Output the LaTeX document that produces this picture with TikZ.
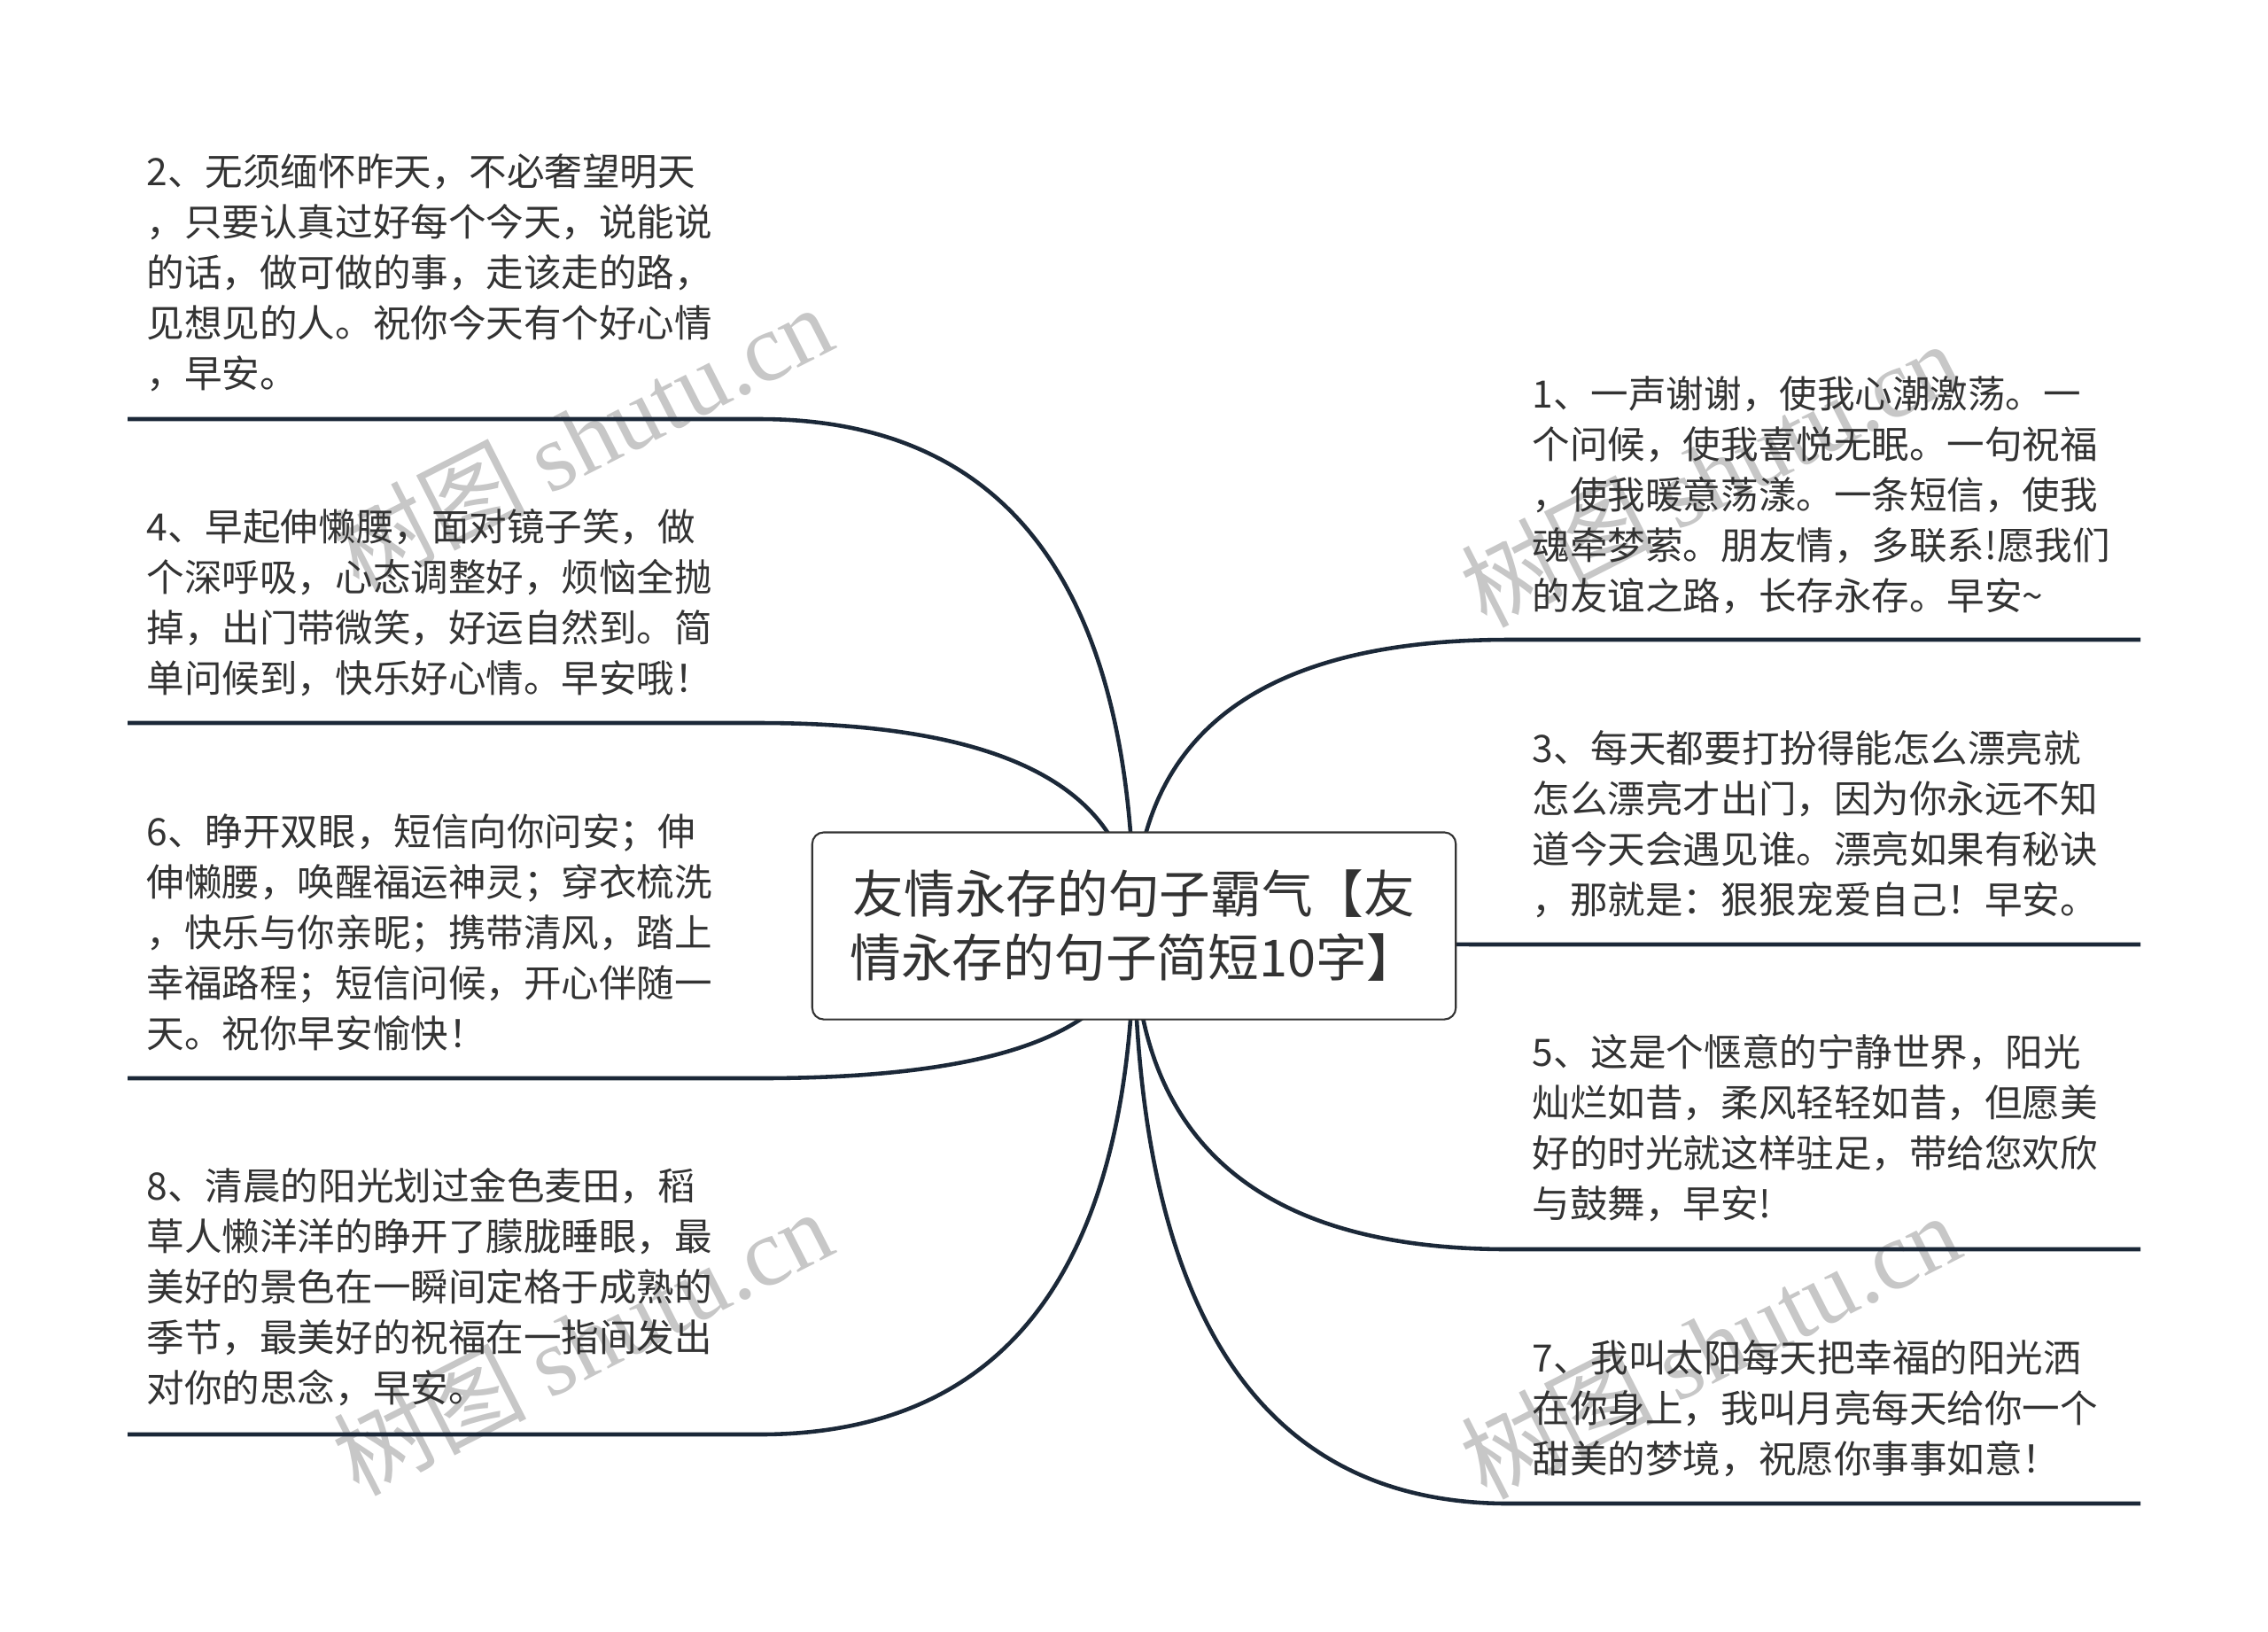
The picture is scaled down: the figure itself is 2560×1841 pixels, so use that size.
\documentclass[tikz,border=0pt]{standalone}
\usepackage{fontspec}
\setmainfont{Noto Sans CJK SC}
\newfontfamily\wmfont{Liberation Serif}
\usetikzlibrary{calc}
\definecolor{linecol}{HTML}{1B2838}
\definecolor{txtcol}{HTML}{333333}

\begin{document}
\begin{tikzpicture}[x=0.01cm, y=-0.01cm,
    txt/.style={anchor=north west, inner sep=0pt, align=left, text=txtcol,
      font=\fontsize{12.1pt}{16.2pt}\selectfont},
    topic/.style={draw=txtcol, line width=0.6pt, fill=white, rounded corners=0.13cm,
      minimum width=7.26cm, minimum height=2.11cm, align=center, text=txtcol,
      font=\fontsize{16.4pt}{20.5pt}\selectfont},
    branch/.style={draw=linecol, line width=1.3pt},
    wm/.style={rotate=27, text=black!22, font=\fontsize{31pt}{31pt}\selectfont}]
  \useasboundingbox[fill=white] (0,0) rectangle (2560,1841);
  % watermarks
  \node[wm] (wm1) at (657,493) {树图 {\wmfont shutu.cn}};
  \node[wm] (wm2) at (1930,534) {树图 {\wmfont shutu.cn}};
  \node[wm] (wm3) at (657,1514) {树图 {\wmfont shutu.cn}};
  \node[wm] (wm4) at (1930,1518) {树图 {\wmfont shutu.cn}};
  % branch ends
  \coordinate (c) at (1280,1045);
  \coordinate (a2) at (857,473);   \coordinate (b2) at (144,473);
  \coordinate (a4) at (857,816);   \coordinate (b4) at (144,816);
  \coordinate (a6) at (857,1217);  \coordinate (b6) at (144,1217);
  \coordinate (a8) at (857,1619);  \coordinate (b8) at (144,1619);
  \coordinate (a1) at (1703,722);  \coordinate (b1) at (2416,722);
  \coordinate (a3) at (1703,1066); \coordinate (b3) at (2416,1066);
  \coordinate (a5) at (1703,1410); \coordinate (b5) at (2416,1410);
  \coordinate (a7) at (1703,1697); \coordinate (b7) at (2416,1697);
  % branches
  \draw[branch] (c) .. controls ($(c)!2/3!(c|-a2)$) and ($(a2)!2/3!(c|-a2)$) .. (a2) -- (b2);
  \draw[branch] (c) .. controls ($(c)!2/3!(c|-a4)$) and ($(a4)!2/3!(c|-a4)$) .. (a4) -- (b4);
  \draw[branch] (c) .. controls ($(c)!2/3!(c|-a6)$) and ($(a6)!2/3!(c|-a6)$) .. (a6) -- (b6);
  \draw[branch] (c) .. controls ($(c)!2/3!(c|-a8)$) and ($(a8)!2/3!(c|-a8)$) .. (a8) -- (b8);
  \draw[branch] (c) .. controls ($(c)!2/3!(c|-a1)$) and ($(a1)!2/3!(c|-a1)$) .. (a1) -- (b1);
  \draw[branch] (c) .. controls ($(c)!2/3!(c|-a3)$) and ($(a3)!2/3!(c|-a3)$) .. (a3) -- (b3);
  \draw[branch] (c) .. controls ($(c)!2/3!(c|-a5)$) and ($(a5)!2/3!(c|-a5)$) .. (a5) -- (b5);
  \draw[branch] (c) .. controls ($(c)!2/3!(c|-a7)$) and ($(a7)!2/3!(c|-a7)$) .. (a7) -- (b7);
  % central topic
  \node[topic] (root) at (c) {友情永存的句子霸气【友\\情永存的句子简短10字】};
  % left texts
  \node[txt] (t2) at (165,173) {2、无须缅怀昨天，不必奢望明天\\，只要认真过好每个今天，说能说\\的话，做可做的事，走该走的路，\\见想见的人。祝你今天有个好心情\\，早安。};
  \node[txt] (t4) at (165,574) {4、早起伸懒腰，面对镜子笑，做\\个深呼吸，心态调整好，烦恼全抛\\掉，出门带微笑，好运自然到。简\\单问候到，快乐好心情。早安哦！};
  \node[txt] (t6) at (165,918) {6、睁开双眼，短信向你问安；伸\\伸懒腰，唤醒福运神灵；穿衣梳洗\\，快乐与你亲昵；携带清风，踏上\\幸福路程；短信问候，开心伴随一\\天。祝你早安愉快！};
  \node[txt] (t8) at (165,1318) {8、清晨的阳光划过金色麦田，稻\\草人懒洋洋的睁开了朦胧睡眼，最\\美好的景色在一瞬间定格于成熟的\\季节，最美好的祝福在一指间发出\\对你的思念，早安。};
  % right texts
  \node[txt] (t1) at (1729,424) {1、一声谢谢，使我心潮激荡。一\\个问候，使我喜悦无眠。一句祝福\\，使我暖意荡漾。一条短信，使我\\魂牵梦萦。朋友情，多联系!愿我们\\的友谊之路，长存永存。早安\textasciitilde};
  \node[txt] (t3) at (1729,824) {3、每天都要打扮得能怎么漂亮就\\怎么漂亮才出门，因为你永远不知\\道今天会遇见谁。漂亮如果有秘诀\\，那就是：狠狠宠爱自己！早安。};
  \node[txt] (t5) at (1729,1167) {5、这是个惬意的宁静世界，阳光\\灿烂如昔，柔风轻轻如昔，但愿美\\好的时光就这样驻足，带给您欢欣\\与鼓舞，早安!};
  \node[txt] (t7) at (1729,1512) {7、我叫太阳每天把幸福的阳光洒\\在你身上，我叫月亮每天给你一个\\甜美的梦境，祝愿你事事如意！};
\end{tikzpicture}
\end{document}
